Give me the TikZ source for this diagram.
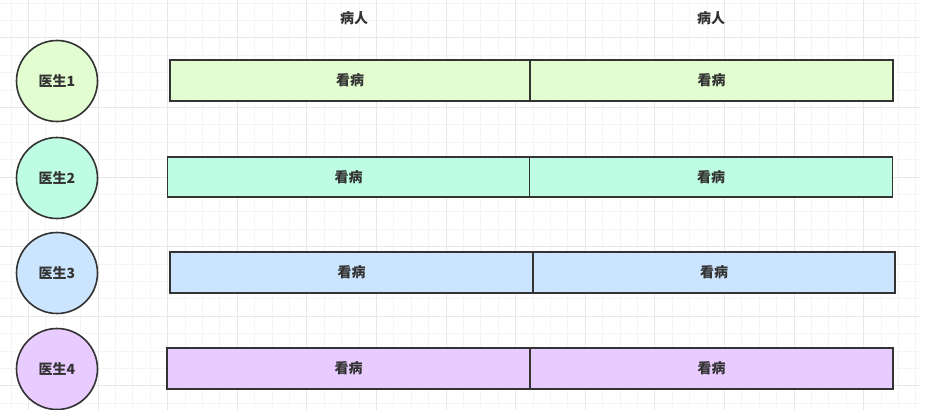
\documentclass[tikz,border=0pt]{standalone}
\usepackage{fontspec}
\newfontfamily\cjk{Noto Sans CJK SC}
\usetikzlibrary{positioning}
\definecolor{GridMinor}{RGB}{244,244,244}
\definecolor{GridMajor}{RGB}{232,232,232}
\definecolor{LineGray}{RGB}{51,51,51}
\definecolor{TextGray}{RGB}{51,51,51}
\definecolor{DocGreen}{RGB}{226,253,208}
\definecolor{DocMint}{RGB}{190,253,228}
\definecolor{DocBlue}{RGB}{204,229,255}
\definecolor{DocPurple}{RGB}{232,204,255}
\tikzset{
  % griglia di sfondo
  grid minor/.style={GridMinor,line width=1},
  grid major/.style={GridMajor,line width=1},
  % medici e visite
  doctor/.style={circle,draw=LineGray,line width=1.6,minimum size=81,inner sep=0,
    text=TextGray,font=\cjk\bfseries\fontsize{14}{16}\selectfont},
  visit/.style={rectangle,draw=LineGray,line width=1.6,minimum width=362,minimum height=41,
    inner sep=0,outer sep=0,text=TextGray,font=\cjk\bfseries\fontsize{14}{16}\selectfont},
  head/.style={text=TextGray,font=\cjk\bfseries\fontsize{14}{16}\selectfont}
}
\begin{document}
\begin{tikzpicture}[x=1pt,y=-1pt]
    \useasboundingbox[fill=white] (0,0) rectangle (930,410);
    % grid
    \foreach \k in {0,...,52}
      \draw[grid minor] ({11+17.4*\k},0) -- ({11+17.4*\k},410);
    \foreach \k in {0,...,23}
      \draw[grid minor] (0,{3+17.4*\k}) -- (920,{3+17.4*\k});
    \foreach \k in {0,...,13}
      \draw[grid major] ({28.4+69.6*\k},0) -- ({28.4+69.6*\k},410);
    \foreach \k in {0,...,5}
      \draw[grid major] (0,{37.8+69.6*\k}) -- (920,{37.8+69.6*\k});
    % patients
    \node[head] (pat1) at (354,18) {病人};
    \node[head] (pat2) at (711,18) {病人};
    % doctors
    \node[doctor,fill=DocGreen]  (doc1) at (57,81)  {医生1};
    \node[doctor,fill=DocMint]   (doc2) at (57,178) {医生2};
    \node[doctor,fill=DocBlue]   (doc3) at (57,273) {医生3};
    \node[doctor,fill=DocPurple] (doc4) at (57,369) {医生4};
    % visits
    \node[visit,fill=DocGreen,minimum width=360] (vis1a) at (350,80.5) {看病};
    \node[visit,fill=DocGreen,minimum width=363,right=0pt of vis1a] (vis1b) {看病};
    \node[visit,fill=DocMint,minimum height=40] (vis2a) at (348.5,177) {看病};
    \node[visit,fill=DocMint,minimum height=40,minimum width=363,right=0pt of vis2a] (vis2b) {看病};
    \node[visit,fill=DocBlue,minimum width=363] (vis3a) at (351.5,272.5) {看病};
    \node[visit,fill=DocBlue,right=0pt of vis3a] (vis3b) {看病};
    \node[visit,fill=DocPurple,minimum width=363] (vis4a) at (348.5,368.5) {看病};
    \node[visit,fill=DocPurple,minimum width=363,right=0pt of vis4a] (vis4b) {看病};
  \end{tikzpicture}
\end{document}
